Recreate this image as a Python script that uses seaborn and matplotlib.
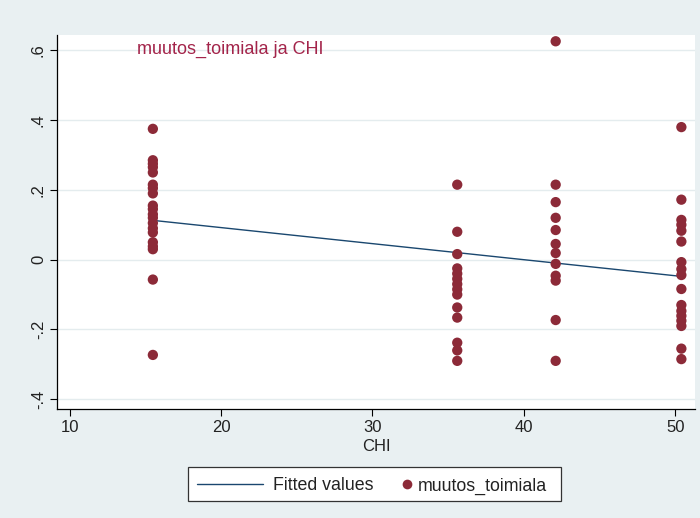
import numpy as np
import pandas as pd
import matplotlib
matplotlib.use("Agg")
import matplotlib.pyplot as plt
import seaborn as sns
from matplotlib.lines import Line2D
from matplotlib.patches import Rectangle

# CHI value of each region group and the observed change (muutos_toimiala)
chi_levels = [15.5, 35.6, 42.1, 50.4]
muutos_chi1 = [0.375, 0.285, 0.275, 0.265, 0.25, 0.215, 0.205, 0.19, 0.155,
               0.145, 0.13, 0.12, 0.105, 0.09, 0.078, 0.05, 0.038, 0.03,
               -0.057, -0.273]
muutos_chi2 = [0.215, 0.08, 0.016, -0.025, -0.04, -0.055, -0.07, -0.085,
               -0.10, -0.137, -0.166, -0.238, -0.26, -0.29]
muutos_chi3 = [0.626, 0.215, 0.165, 0.12, 0.085, 0.045, 0.019, -0.012,
               -0.046, -0.06, -0.173, -0.29]
muutos_chi4 = [0.38, 0.172, 0.114, 0.10, 0.083, 0.052, -0.007, -0.027,
               -0.044, -0.084, -0.13, -0.147, -0.161, -0.175, -0.19,
               -0.255, -0.285]

y_ticks = [-0.4, -0.2, 0.0, 0.2, 0.4, 0.6]
y_tick_labels = ["-.4", "-.2", "0", ".2", ".4", ".6"]
x_ticks = [10, 20, 30, 40, 50]
legend_labels = ["Fitted values", "muutos_toimiala"]

groups = [muutos_chi1, muutos_chi2, muutos_chi3, muutos_chi4]
df = pd.DataFrame({
    "CHI": np.concatenate([[c] * len(g) for c, g in zip(chi_levels, groups)]),
    "muutos_toimiala": np.concatenate(groups),
})

bg = "#e9f0f2"
dot_col = "#8c2a38"
line_col = "#1a476f"
text_col = "#a3244a"
ink = "#222222"

sns.set_theme(style="white")
plt.rcParams["font.family"] = ["Liberation Sans", "DejaVu Sans"]

W, H = 700, 518
fig = plt.figure(figsize=(W / 100, H / 100), dpi=100, facecolor=bg)
ax = fig.add_axes([57 / W, 109 / H, 638 / W, 374 / H])
ax.set_facecolor("white")

# horizontal grid at the y ticks
for yt in y_ticks:
    ax.axhline(yt, color="#e4ecee", lw=1.0, zorder=0)

sns.regplot(data=df, x="CHI", y="muutos_toimiala", scatter=False, ci=None,
            truncate=True, color=line_col, line_kws={"lw": 1.0, "zorder": 2},
            ax=ax)
sns.scatterplot(data=df, x="CHI", y="muutos_toimiala", color=dot_col, s=55,
                edgecolor="none", linewidth=0, zorder=3, ax=ax, legend=False)

ax.set_xlim(9.17, 51.3)
ax.set_ylim(-0.428, 0.644)
ax.set_xticks(x_ticks)
ax.set_xticklabels([str(t) for t in x_ticks])
ax.set_yticks(y_ticks)
ax.set_yticklabels(y_tick_labels, rotation=90, va="center")
ax.tick_params(axis="both", direction="out", length=5, width=0.8,
               color="black", labelsize=12, labelcolor=ink,
               bottom=True, left=True, pad=3)
ax.set_xlabel("CHI", fontsize=12, color=ink, labelpad=3)
ax.set_ylabel("")

for side in ["top", "right"]:
    ax.spines[side].set_visible(False)
for side in ["left", "bottom"]:
    ax.spines[side].set_color("black")
    ax.spines[side].set_linewidth(0.9)

ax.text(0.125, 0.985, "muutos_toimiala ja CHI", transform=ax.transAxes,
        color=text_col, fontsize=13, ha="left", va="top")

# legend box below the plot, laid out in pixel units of the figure
def fx(px):
    return px / W

def fy(py):
    return 1 - py / H

tf = fig.transFigure
fig.patches.append(Rectangle((fx(188), fy(501)), fx(561) - fx(188),
                             fy(467) - fy(501), transform=tf,
                             facecolor="white", edgecolor="#333333",
                             lw=0.9, zorder=1))
yc = fy(484)
fig.lines.append(Line2D([fx(197), fx(263)], [yc, yc], transform=tf,
                        color=line_col, lw=1.0, zorder=2))
fig.lines.append(Line2D([fx(407)], [yc], transform=tf, marker="o",
                        markersize=7, markerfacecolor=dot_col,
                        markeredgecolor="none", linestyle="none", zorder=2))
fig.text(fx(273), yc, legend_labels[0], fontsize=12.8, color=ink,
         ha="left", va="center_baseline", zorder=3)
fig.text(fx(418), yc, legend_labels[1], fontsize=12.8, color=ink,
         ha="left", va="center_baseline", zorder=3)

fig.savefig("out.png", dpi=100, facecolor=bg)
